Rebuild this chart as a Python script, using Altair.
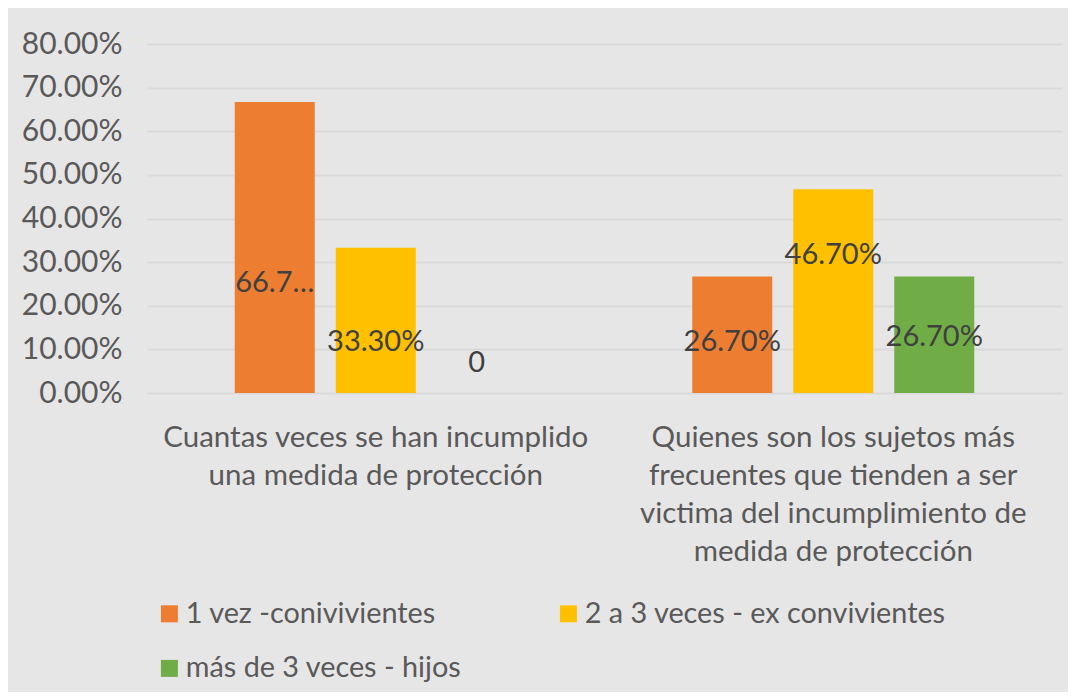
import altair as alt
import pandas as pd

categories = [
    "Cuantas veces se han incumplido\nuna medida de protección",
    "Quienes son los sujetos más\nfrecuentes que tienden a ser\nvictima del incumplimiento de\nmedida de protección",
]
series = ["1 vez -conivivientes", "2 a 3 veces - ex convivientes", "más de 3 veces - hijos"]
colors = ["#ed7d31", "#ffc000", "#70ad47"]

values_g1 = [0.667, 0.333, 0.0]
values_g2 = [0.267, 0.467, 0.267]
labels_g1 = ["66.7…", "33.30%", "0"]
labels_g2 = ["26.70%", "46.70%", "26.70%"]
# where each data label sits (in axis units)
label_at_g1 = [0.252, 0.117, 0.069]
label_at_g2 = [0.117, 0.317, 0.128]

rows = []
for cat, vals, labs, ats in [
    (categories[0], values_g1, labels_g1, label_at_g1),
    (categories[1], values_g2, labels_g2, label_at_g2),
]:
    for s, v, l, a in zip(series, vals, labs, ats):
        rows.append({"category": cat, "series": s, "value": v, "label": l, "label_at": a})
df = pd.DataFrame(rows)

FONT = "Lato"
base = alt.Chart(df)

x_enc = alt.X(
    "category:N",
    sort=categories,
    scale=alt.Scale(paddingInner=0.3836, paddingOuter=0.1918),
    axis=alt.Axis(
        title=None,
        labelExpr="split(datum.value, '\\n')",
        labelAngle=0,
        labelFont=FONT,
        labelFontSize=29.5,
        labelColor="#595959",
        labelLineHeight=38,
        labelPadding=44,
        labelBaseline="middle",
        labelLimit=1000,
        ticks=False,
        domain=False,
        grid=False,
    ),
)
xoff = alt.XOffset("series:N", sort=series, scale=alt.Scale(paddingInner=0.208, paddingOuter=0))

bars = base.mark_bar().encode(
    x=x_enc,
    xOffset=xoff,
    y=alt.Y(
        "value:Q",
        scale=alt.Scale(domain=[0, 0.8], nice=False),
        axis=alt.Axis(
            title=None,
            format=".2%",
            values=[0, 0.1, 0.2, 0.3, 0.4, 0.5, 0.6, 0.7, 0.8],
            labelFont=FONT,
            labelFontSize=30,
            labelColor="#595959",
            labelPadding=25,
            ticks=False,
            domain=False,
            grid=True,
            gridColor="#d9d9d9",
            gridWidth=2,
        ),
    ),
    color=alt.Color(
        "series:N",
        sort=series,
        scale=alt.Scale(domain=series, range=colors),
        legend=alt.Legend(
            title=None,
            orient="none",
            legendX=8,
            legendY=555,
            direction="horizontal",
            columns=2,
            columnPadding=92,
            rowPadding=25,
            symbolType="square",
            symbolSize=289,
            symbolStrokeWidth=0,
            labelFont=FONT,
            labelFontSize=28.8,
            labelColor="#595959",
            labelOffset=2,
            labelLimit=600,
        ),
    ),
)

texts = base.mark_text(font=FONT, fontSize=29, color="#404040", baseline="middle").encode(
    x=alt.X("category:N", sort=categories),
    xOffset=xoff,
    y=alt.Y("label_at:Q"),
    text="label:N",
)

chart = (
    alt.layer(bars, texts)
    .properties(
        width=915,
        height=349,
        autosize=alt.AutoSizeParams(type="none"),
        padding={"left": 139, "top": 36, "right": 6, "bottom": 299},
        background="#e7e6e6",
    )
    .configure_view(stroke=None)
)

chart.save("out.html", embed_options={"renderer": "svg", "actions": False})
